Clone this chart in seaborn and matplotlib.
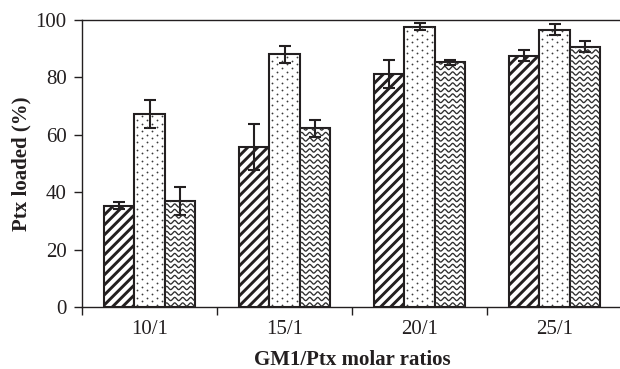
import numpy as np
import pandas as pd
import matplotlib
matplotlib.use("Agg")
import matplotlib.pyplot as plt
from matplotlib.lines import Line2D
from matplotlib.transforms import IdentityTransform
import seaborn as sns

# GM1 / Ptx molar ratios on the x axis
ratios = ["10/1", "15/1", "20/1", "25/1"]
series = ["Formulation 1", "Formulation 2", "Formulation 3"]

# Ptx loaded (%) and its standard deviation for each series
loaded_1 = [35.3, 55.9, 81.2, 87.6]
sd_1 = [1.2, 8.0, 5.0, 2.0]
loaded_2 = [67.2, 88.0, 97.7, 96.6]
sd_2 = [4.8, 3.0, 1.3, 2.0]
loaded_3 = [37.0, 62.3, 85.2, 90.7]
sd_3 = [4.8, 3.0, 1.0, 2.0]

y_ticks = [0, 20, 40, 60, 80, 100]

df = pd.DataFrame({
    "ratio": ratios * 3,
    "series": np.repeat(series, len(ratios)),
    "loaded": loaded_1 + loaded_2 + loaded_3,
    "sd": sd_1 + sd_2 + sd_3,
})

sns.set_style("ticks")
plt.rcParams["font.family"] = ["Liberation Serif", "DejaVu Serif"]
ink = "#231f20"
FS = 15

fig = plt.figure(figsize=(6.2, 3.69), dpi=100)
ax = fig.add_axes([82 / 620, 1 - 307 / 369, 540 / 620, 287 / 369])

sns.barplot(data=df, x="ratio", y="loaded", hue="series", order=ratios,
            hue_order=series, width=0.675, gap=0, errorbar=None,
            palette=["white"] * 3, edgecolor=ink, linewidth=1.5,
            legend=False, ax=ax, zorder=2)

ax.set_xlim(-0.5, 3.5)
ax.set_ylim(0, 100)

for container, name in zip(ax.containers, series):
    sub = df[df["series"] == name]
    xs = [bar.get_x() + bar.get_width() / 2 for bar in container]
    ax.errorbar(xs, sub["loaded"].values, yerr=sub["sd"].values, fmt="none",
                ecolor=ink, elinewidth=1.5, capsize=4, capthick=1.5, zorder=4)

ident = IdentityTransform()


def bar_pixels(bar):
    (x0, y0), (x1, y1) = ax.transData.transform(
        [(bar.get_x(), 0), (bar.get_x() + bar.get_width(), bar.get_height())])
    return x0, y0, x1, y1


def clipped(xs, ys, bar, **kw):
    ln = Line2D(xs, ys, transform=ident, zorder=3, **kw)
    fig.add_artist(ln)
    ln.set_clip_path(bar)


# diagonal stripes
for bar in ax.containers[0]:
    x0, y0, x1, y1 = bar_pixels(bar)
    span = (x1 - x0) + (y1 - y0)
    for c in np.arange(-span, span, 10.0):
        clipped([x0 + c, x0 + c + span], [y0, y0 + span], bar,
                color=ink, lw=2.1, solid_capstyle="butt")

# staggered dots
for bar in ax.containers[1]:
    x0, y0, x1, y1 = bar_pixels(bar)
    pts_x, pts_y = [], []
    for i, yy in enumerate(np.arange(y0 + 2, y1, 3.7)):
        off = 2.5 if i % 2 == 0 else 7.5
        for xx in np.arange(x0 + off, x1, 10.0):
            pts_x.append(xx)
            pts_y.append(yy)
    clipped(pts_x, pts_y, bar, color="#3a3a3a", lw=0, marker="o",
            markersize=1.3, markeredgewidth=0, linestyle="none")

# wavy lines
for bar in ax.containers[2]:
    x0, y0, x1, y1 = bar_pixels(bar)
    xx = np.linspace(x0 - 2, x1 + 2, 160)
    for yb in np.arange(y0 + 2.5, y1 + 3, 5.5):
        yy = yb + 1.6 * np.sin((xx - x0) * 2 * np.pi / 8.0)
        clipped(xx, yy, bar, color="#2e2e2e", lw=0.95)

ax.set_yticks(y_ticks)
ax.set_yticklabels([str(t) for t in y_ticks])

# group separators as major ticks, category names as minor labels
ax.set_xticks([-0.5, 0.5, 1.5, 2.5])
ax.set_xticklabels([])
ax.set_xticks(range(len(ratios)), minor=True)
ax.set_xticklabels(ratios, minor=True)
ax.tick_params(axis="x", which="major", length=6, width=1, color=ink, direction="out")
ax.tick_params(axis="x", which="minor", length=0, pad=9, labelsize=FS, labelcolor=ink)
ax.tick_params(axis="y", length=6, width=1, color=ink, labelsize=FS, labelcolor=ink, pad=5)

for side in ["left", "bottom", "top"]:
    ax.spines[side].set_visible(True)
    ax.spines[side].set_color(ink)
    ax.spines[side].set_linewidth(1.0)
ax.spines["right"].set_visible(False)

ax.set_xlabel("GM1/Ptx molar ratios", fontsize=FS, fontweight="bold", color=ink, labelpad=8)
ax.set_ylabel("Ptx loaded (%)", fontsize=FS, fontweight="bold", color=ink, labelpad=3)

fig.savefig("out.png", dpi=100)
